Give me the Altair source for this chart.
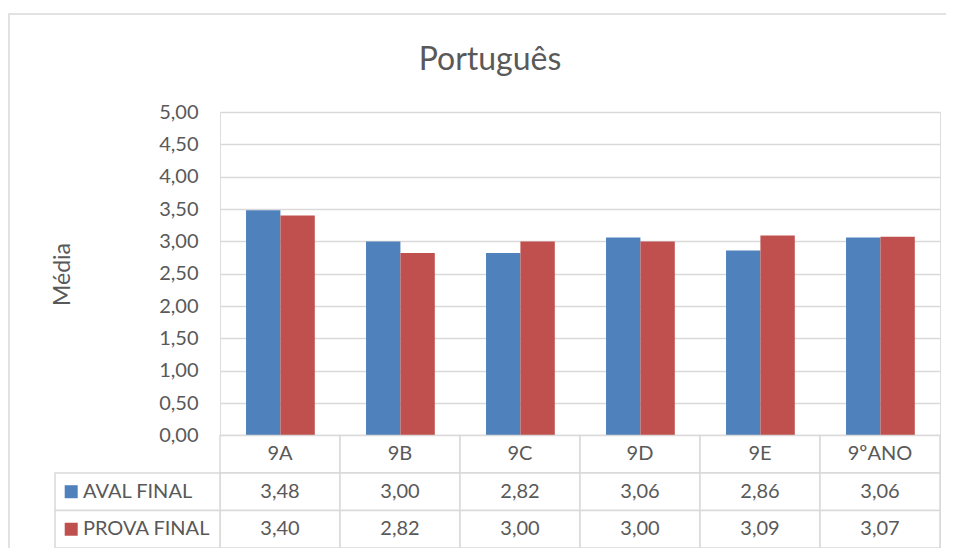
import altair as alt
import pandas as pd

categories = ["9A", "9B", "9C", "9D", "9E", "9ºANO"]
series_names = ["AVAL FINAL", "PROVA FINAL"]
aval_final = [3.48, 3.00, 2.82, 3.06, 2.86, 3.06]
prova_final = [3.40, 2.82, 3.00, 3.00, 3.09, 3.07]
y_ticks = [0, 0.5, 1, 1.5, 2, 2.5, 3, 3.5, 4, 4.5, 5]
series_colors = ["#4f81bd", "#c0504d"]
chart_title = "Português"

TEXT = "#595959"
LINE = "#d9d9d9"
FONT = "Lato"
FS = 20
ROW_H = 0.58  # table row height in y units
Y_MIN = -3 * ROW_H

rows = []
for i, c in enumerate(categories):
    for s, vals in enumerate([aval_final, prova_final]):
        rows.append({"cat": c, "ci": i, "series": series_names[s], "si": s, "value": vals[i]})
df = pd.DataFrame(rows)
cat_df = pd.DataFrame({"cat": categories, "ci": list(range(len(categories)))})
ser_df = pd.DataFrame({"series": series_names, "si": [0, 1]})

xs = alt.Scale(domain=[0, 6], nice=False, zero=False)
ys = alt.Scale(domain=[Y_MIN, 5], nice=False, zero=False)
cs = alt.Scale(domain=series_names, range=series_colors)

yaxis = alt.Axis(
    values=y_ticks, grid=True, gridColor=LINE, gridWidth=1.5, domain=False, ticks=False,
    labelExpr="replace(format(datum.value, '.2f'), '.', ',')",
    labelFontSize=FS, labelColor=TEXT, labelFont=FONT, labelPadding=22,
    title="Média", titleFontSize=23, titleFont=FONT, titleFontWeight="normal",
    titleColor=TEXT, titleX=-158, titleY=162, titleAngle=270,
    titleAlign="center", titleBaseline="middle",
)

frame = alt.Chart(pd.DataFrame({"a": [0]})).mark_rect(
    fill="white", fillOpacity=0, stroke=LINE, strokeWidth=1.5
).encode(
    x=alt.value(-211), x2=alt.value(760), y=alt.value(-98), y2=alt.value(470)
)

title = alt.Chart(pd.DataFrame({"t": [chart_title]})).mark_text(
    fontSize=32, font=FONT, color=TEXT, align="center", baseline="alphabetic"
).encode(x=alt.value(270), y=alt.value(-42), text="t:N")

bars = alt.Chart(df).transform_calculate(
    bx="datum.ci + 0.217 + datum.si * 0.2865",
    bx2="datum.ci + 0.217 + (datum.si + 1) * 0.2865",
).mark_rect().encode(
    x=alt.X("bx:Q", scale=xs, axis=None),
    x2="bx2:Q",
    y=alt.Y("value:Q", scale=ys, axis=yaxis),
    y2=alt.datum(0),
    color=alt.Color("series:N", scale=cs, legend=None),
)

head_cells = alt.Chart(cat_df).transform_calculate(
    x1="datum.ci", x2="datum.ci + 1", y1="0", y2=f"{-ROW_H}"
).mark_rect(fill="white", stroke=LINE, strokeWidth=1.5).encode(
    x=alt.X("x1:Q", scale=xs, axis=None), x2="x2:Q",
    y=alt.Y("y1:Q", scale=ys, axis=yaxis), y2="y2:Q",
)

val_cells = alt.Chart(df).transform_calculate(
    x1="datum.ci", x2="datum.ci + 1",
    y1=f"-(datum.si + 1) * {ROW_H}", y2=f"-(datum.si + 2) * {ROW_H}",
).mark_rect(fill="white", stroke=LINE, strokeWidth=1.5).encode(
    x=alt.X("x1:Q", scale=xs, axis=None), x2="x2:Q",
    y=alt.Y("y1:Q", scale=ys, axis=yaxis), y2="y2:Q",
)

lab_cells = alt.Chart(ser_df).transform_calculate(
    x1="-1.375", x2="0",
    y1=f"-(datum.si + 1) * {ROW_H}", y2=f"-(datum.si + 2) * {ROW_H}",
).mark_rect(fill="white", stroke=LINE, strokeWidth=1.5).encode(
    x=alt.X("x1:Q", scale=xs, axis=None), x2="x2:Q",
    y=alt.Y("y1:Q", scale=ys, axis=yaxis), y2="y2:Q",
)

head_text = alt.Chart(cat_df).transform_calculate(
    tx="datum.ci + 0.5", ty=f"{-ROW_H / 2}"
).mark_text(fontSize=FS, font=FONT, color=TEXT, baseline="middle").encode(
    x=alt.X("tx:Q", scale=xs, axis=None),
    y=alt.Y("ty:Q", scale=ys, axis=yaxis),
    text="cat:N",
)

val_text = alt.Chart(df).transform_calculate(
    tx="datum.ci + 0.5", ty=f"-(datum.si + 1.5) * {ROW_H}",
    label="replace(format(datum.value, '.2f'), '.', ',')",
).mark_text(fontSize=FS, font=FONT, color=TEXT, baseline="middle").encode(
    x=alt.X("tx:Q", scale=xs, axis=None),
    y=alt.Y("ty:Q", scale=ys, axis=yaxis),
    text="label:N",
)

lab_text = alt.Chart(ser_df).transform_calculate(
    tx="-1.142", ty=f"-(datum.si + 1.5) * {ROW_H}"
).mark_text(fontSize=FS, font=FONT, color=TEXT, baseline="middle", align="left").encode(
    x=alt.X("tx:Q", scale=xs, axis=None),
    y=alt.Y("ty:Q", scale=ys, axis=yaxis),
    text="series:N",
)

lab_sq = alt.Chart(ser_df).transform_calculate(
    tx="-1.24", ty=f"-(datum.si + 1.5) * {ROW_H}"
).mark_square(size=169, opacity=1).encode(
    x=alt.X("tx:Q", scale=xs, axis=None),
    y=alt.Y("ty:Q", scale=ys, axis=yaxis),
    color=alt.Color("series:N", scale=cs, legend=None),
)

chart = alt.layer(
    frame, title, bars, head_cells, val_cells, lab_cells, head_text, val_text, lab_text, lab_sq
).properties(
    width=720, height=436,
    autosize=alt.AutoSizeParams(type="none"),
    padding={"left": 212, "top": 104, "right": 6, "bottom": 0},
).configure_view(stroke=None).configure(background="white")

chart.save("out.html", embed_options={"renderer": "svg", "actions": False})
